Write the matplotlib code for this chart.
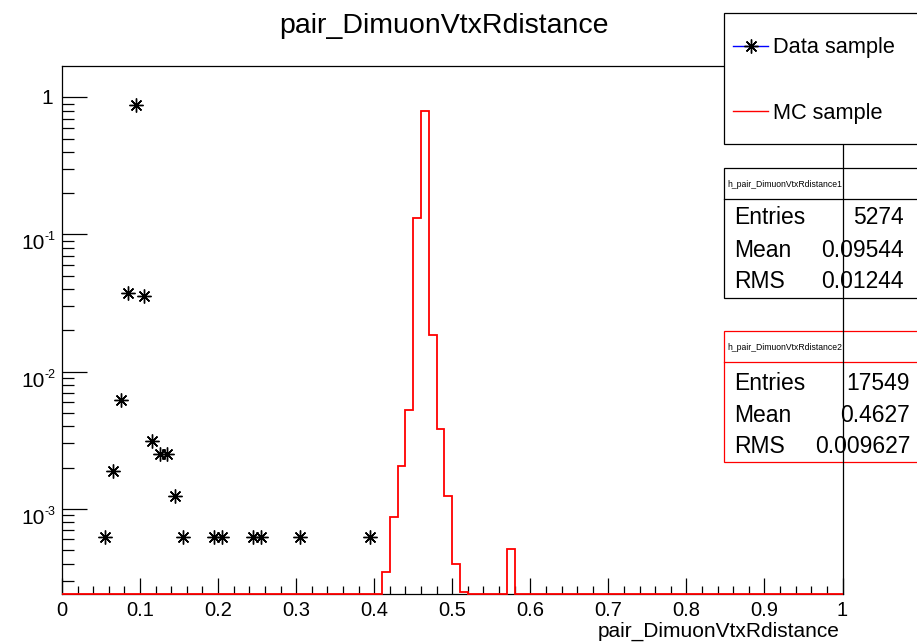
import numpy as np
import matplotlib
matplotlib.use("Agg")
import matplotlib.pyplot as plt
from matplotlib.patches import Rectangle
from matplotlib.lines import Line2D
from matplotlib.ticker import MultipleLocator, LogLocator, NullFormatter, FuncFormatter

plt.rcParams['font.family'] = ['Liberation Sans', 'DejaVu Sans']

# ---- data ----
title = "pair_DimuonVtxRdistance"
bin_edges = np.linspace(0.0, 1.0, 101)

# data sample: non-empty bins only (bin centre, content)
data_x = [0.055, 0.065, 0.075, 0.085, 0.095, 0.105, 0.115, 0.125, 0.135,
          0.145, 0.155, 0.195, 0.205, 0.245, 0.255, 0.305, 0.395]
data_y = [6.25e-4, 1.875e-3, 6.25e-3, 0.0375, 0.883, 0.0356, 3.125e-3, 2.5e-3,
          2.5e-3, 1.25e-3, 6.25e-4, 6.25e-4, 6.25e-4, 6.25e-4, 6.25e-4, 6.25e-4,
          6.25e-4]

# MC sample: non-empty bins (lower bin edge, content)
mc_lo = [0.41, 0.42, 0.43, 0.44, 0.45, 0.46, 0.47, 0.48, 0.49, 0.50, 0.51, 0.57]
mc_val = [3.5e-4, 8.8e-4, 2.07e-3, 5.3e-3, 0.133, 0.794, 0.0184, 3.8e-3,
          1.24e-3, 4.0e-4, 2.5e-4, 5.1e-4]

y_ticks = [1e-3, 1e-2, 1e-1, 1.0]

stats_data = [("Entries", "5274"), ("Mean", "0.09544"), ("RMS", "0.01244")]
stats_mc = [("Entries", "17549"), ("Mean", "0.4627"), ("RMS", "0.009627")]

YMIN, YMAX = 2.4e-4, 1.69

# ---- figure ----
W_PX, H_PX = 917, 643
def fx(x):
    return x / W_PX
def fy(y):
    return 1 - y / H_PX

fig = plt.figure(figsize=(W_PX / 100, H_PX / 100), dpi=100)
ax = fig.add_axes([fx(62), fy(594), fx(842.5) - fx(62), fy(66) - fy(594)])
ax.patch.set_visible(False)

mc = np.zeros(len(bin_edges) - 1)
for lo, v in zip(mc_lo, mc_val):
    mc[int(round(lo * 100))] = v
mc_plot = np.where(mc > 0, mc, YMIN)
ax.stairs(mc_plot, bin_edges, color='red', lw=1.3, baseline=None,
          clip_on=False, zorder=3)

STAR = (8, 2, 0)
ax.plot(data_x, data_y, ls='none', marker=STAR, ms=10, mew=1.0,
        color='black', zorder=4)
ax.plot(data_x, data_y, ls='none', marker='o', ms=2.6, mew=0,
        color='black', zorder=4)

ax.set_yscale('log')
ax.set_xlim(0, 1)
ax.set_ylim(YMIN, YMAX)

ax.xaxis.set_major_locator(MultipleLocator(0.1))
ax.xaxis.set_minor_locator(MultipleLocator(0.02))
ax.xaxis.set_major_formatter(FuncFormatter(lambda v, p: "%g" % round(v, 2)))
ax.yaxis.set_major_locator(LogLocator(base=10))
ax.yaxis.set_minor_locator(LogLocator(base=10, subs=np.arange(2, 10)))
ax.yaxis.set_minor_formatter(NullFormatter())
ax.yaxis.set_major_formatter(NullFormatter())

ax.tick_params(which='both', direction='in', top=False, right=False,
               width=0.9, labelsize=14.5)
ax.tick_params(axis='x', which='major', length=11.5, pad=5)
ax.tick_params(axis='x', which='minor', length=5.8)
ax.tick_params(axis='y', which='major', length=18)
ax.tick_params(axis='y', which='minor', length=8.6)
for s in ax.spines.values():
    s.set_linewidth(0.9)

# y labels placed like ROOT does: "10" with a small raised exponent
for v in y_ticks:
    e = int(round(np.log10(v)))
    if e == 0:
        ax.annotate("1", xy=(0, v), xycoords=('axes fraction', 'data'),
                    xytext=(-9, -7), textcoords='offset pixels',
                    ha='right', va='baseline', fontsize=15)
    else:
        ax.annotate("10", xy=(0, v), xycoords=('axes fraction', 'data'),
                    xytext=(-17.5, -15), textcoords='offset pixels',
                    ha='right', va='baseline', fontsize=15)
        ax.annotate("-%d" % -e, xy=(0, v), xycoords=('axes fraction', 'data'),
                    xytext=(-17.5, -6), textcoords='offset pixels',
                    ha='left', va='baseline', fontsize=9)

fig.text(fx(444), fy(33.3), title, ha='center', va='baseline', fontsize=20.5)
fig.text(fx(840), fy(636.7), title, ha='right', va='baseline', fontsize=15)

# legend box (covers the frame corner)
fig.add_artist(Rectangle((fx(724.3), fy(144)), fx(960) - fx(724.3), fy(12.7) - fy(144),
                         transform=fig.transFigure, facecolor='white',
                         edgecolor='black', lw=0.9, zorder=5))
fig.add_artist(Line2D([fx(733), fx(768)], [fy(45.7), fy(45.7)], transform=fig.transFigure,
                      color='blue', lw=1.0, zorder=6))
fig.add_artist(Line2D([fx(750.5)], [fy(45.7)], transform=fig.transFigure, ls='none',
                      marker=STAR, ms=10, mew=1.0, color='black', zorder=6))
fig.add_artist(Line2D([fx(733), fx(768)], [fy(111), fy(111)], transform=fig.transFigure,
                      color='red', lw=1.0, zorder=6))
fig.text(fx(773.3), fy(53.3), "Data sample", fontsize=15.7, va='baseline', zorder=7)
fig.text(fx(773.3), fy(119.3), "MC sample", fontsize=15.7, va='baseline', zorder=7)

# stat boxes (drawn under the frame)
def stat_box(top, divider, bottom, name, rows, baselines, val_right, edge):
    fig.add_artist(Rectangle((fx(724.3), fy(bottom)), fx(960) - fx(724.3), fy(top) - fy(bottom),
                             transform=fig.transFigure, facecolor='white',
                             edgecolor=edge, lw=0.9, zorder=-2))
    fig.add_artist(Line2D([fx(724.3), fx(960)], [fy(divider), fy(divider)],
                          transform=fig.transFigure, color=edge, lw=0.9, zorder=-2))
    fig.text(fx(727), fy(divider - 11.5), name, fontsize=6.2, va='baseline', zorder=-1)
    for (lab, val), b in zip(rows, baselines):
        fig.text(fx(734), fy(b), lab, fontsize=16.5, va='baseline', zorder=-1)
        fig.text(fx(val_right), fy(b), val, fontsize=16.5, va='baseline', ha='right', zorder=-1)

stat_box(168.3, 198.7, 297.7, "h_pair_DimuonVtxRdistance1", stats_data,
         [224, 257, 288], 904, 'black')
stat_box(331, 361.7, 461.7, "h_pair_DimuonVtxRdistance2", stats_mc,
         [390, 421.7, 452.7], 910, 'red')

fig.savefig("out.png", dpi=100)
